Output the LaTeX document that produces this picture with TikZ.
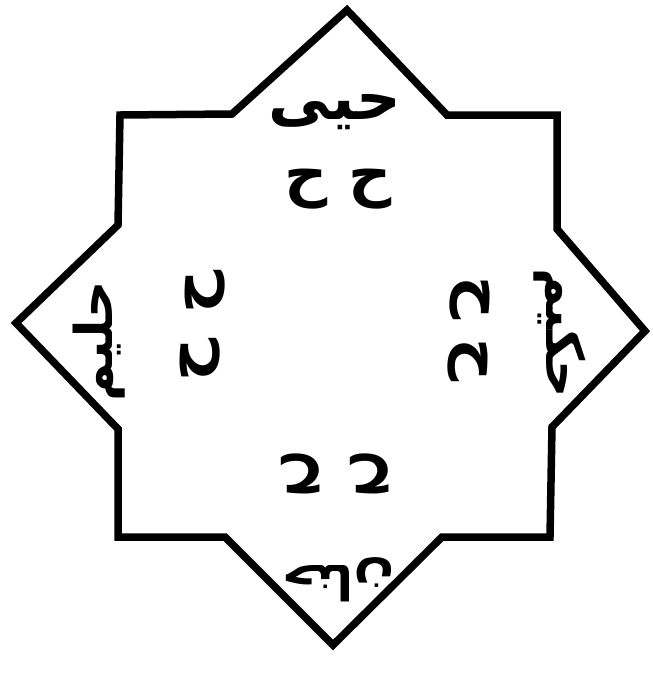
\documentclass[tikz,border=0pt]{standalone}
\usepackage{fontspec}
\newfontfamily\arabicfont[Script=Arabic]{DejaVu Sans}
\TeXXeTstate=1
\begin{document}
\begin{tikzpicture}[x=1pt,y=-1pt,
  star/.style={line width=7.5pt,line join=miter,draw=black},
  word/.style={inner sep=0pt,font=\arabicfont\bfseries\fontsize{#1}{#1}\selectfont},
  word/.default=60,
  letter/.style={inner sep=0pt,font=\arabicfont\bfseries\fontsize{60}{62}\selectfont}]
\useasboundingbox (0,0) rectangle (653,673);
% star vertices
\coordinate (T) at (347,10);
\coordinate (TRi) at (447,115);
\coordinate (TR) at (557,115);
\coordinate (RUi) at (557,229);
\coordinate (R) at (645,331);
\coordinate (RLi) at (552,427);
\coordinate (BR) at (550,537);
\coordinate (BRi) at (442,537);
\coordinate (B) at (333,645);
\coordinate (BLi) at (225,537);
\coordinate (BL) at (118,537);
\coordinate (LLi) at (118,429);
\coordinate (L) at (16,323);
\coordinate (LUi) at (118,225);
\coordinate (TL) at (120,115);
\coordinate (TLi) at (232,114);
\draw[star] (T) -- (TRi) -- (TR) -- (RUi) -- (R) -- (RLi) -- (BR) -- (BRi) -- (B) -- (BLi) -- (BL) -- (LLi) -- (L) -- (LUi) -- (TL) -- (TLi) -- cycle;
% words
\node[word=62] (wtop) at (335,112) {\beginR حيى\endR};
\node[word=52,rotate=-90] (wright) at (560,333) {\beginR حكيم\endR};
\node[word=48,rotate=180] (wbottom) at (338,580) {\beginR حنان\endR};
\node[word=52,rotate=90] (wleft) at (99,341) {\beginR حليم\endR};
% letters
\node[letter] (t1) at (306,189) {\beginR ح\endR};
\node[letter] (t2) at (370,189) {\beginR ح\endR};
\node[letter,rotate=-90] (r1) at (470,298) {\beginR ح\endR};
\node[letter,rotate=-90] (r2) at (468,360) {\beginR ح\endR};
\node[letter,rotate=180] (b1) at (303,474) {\beginR ح\endR};
\node[letter,rotate=180] (b2) at (372,474) {\beginR ح\endR};
\node[letter,rotate=90] (l1) at (205,292) {\beginR ح\endR};
\node[letter,rotate=90] (l2) at (200,360) {\beginR ح\endR};
\end{tikzpicture}
\end{document}
